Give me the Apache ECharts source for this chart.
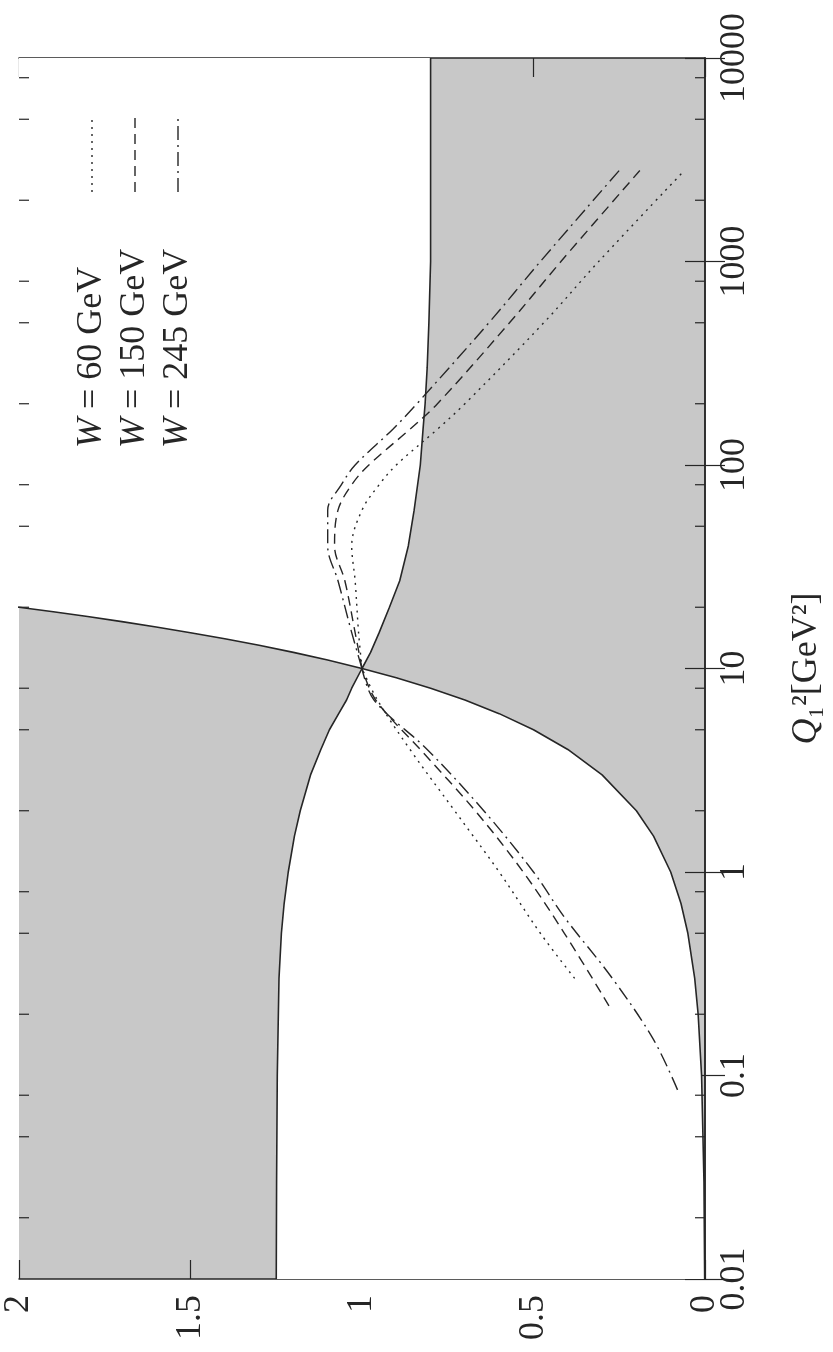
<!DOCTYPE html>
<html><head><meta charset="utf-8">
<script src="https://cdn.jsdelivr.net/npm/echarts@6/dist/echarts.min.js"></script>
<style>html,body{margin:0;padding:0;background:#fff}#c{width:833px;height:1352px}</style>
</head><body><div id="c"></div>
<script>
// ---- data ----
const valueTicks = [0, 0.5, 1, 1.5, 2];
const q2Major = [0.01, 0.1, 1, 10, 100, 1000, 10000];
const q2Minor = [0.02,0.05,0.08, 0.2,0.5,0.8, 2,5,8, 20,50,80, 200,500,800, 2000,5000,8000];
// boundary curve A (1.25 -> 1 -> 0.8)
const boundAQ2 = [0.01,0.03,0.1,0.3,0.5,0.7,1,1.5,2,3,4,5,6,7,8,10,12,15,20,27,40,60,100,150,200,300,500,1000,10000];
const boundAVal = [1.25,1.249,1.247,1.242,1.235,1.227,1.215,1.197,1.18,1.15,1.12,1.095,1.068,1.045,1.03,1.0,0.975,0.95,0.92,0.89,0.865,0.848,0.83,0.822,0.816,0.81,0.805,0.8,0.8];
// boundary curve B (rises from 0 through 1 at Q1^2 = 10 and leaves the frame at 2)
const boundBQ2 = [0.01,0.03,0.1,0.2,0.3,0.5,0.7,1,1.5,2,3,4,5,6,7,8,9,10,11,12,13,14,15,16,17,18,19,20,21,30,10000];
const boundBVal = [0.001,0.003,0.01,0.02,0.03,0.05,0.07,0.1,0.15,0.2,0.3,0.4,0.5,0.6,0.7,0.8,0.9,1.0,1.1,1.2,1.3,1.4,1.5,1.6,1.7,1.8,1.9,2.0,2.1,3,3];
// W curves: [Q1^2, value]
const w60Low   = [[0.3,0.38],[0.5,0.48],[1,0.6],[2,0.73],[4,0.86],[7,0.955],[10,1.0]];
const w60High  = [[10,1.0],[15,1.01],[27,1.02],[40,1.03],[60,1.0],[80,0.95],[100,0.9],[150,0.78],[200,0.7],[500,0.47],[1000,0.31],[2800,0.06]];
const w150Low  = [[0.22,0.28],[0.5,0.41],[1,0.53],[2,0.67],[4,0.83],[7,0.96],[10,1.0]];
const w150High = [[10,1.0],[15,1.02],[27,1.05],[40,1.08],[60,1.07],[80,1.03],[100,0.98],[150,0.86],[200,0.78],[500,0.57],[1000,0.42],[2800,0.19]];
const w245Low  = [[0.085,0.08],[0.15,0.15],[0.3,0.27],[0.6,0.41],[1,0.5],[2,0.645],[4,0.81],[7,0.965],[10,1.0]];
const w245High = [[10,1.0],[15,1.03],[27,1.07],[40,1.1],[60,1.1],[80,1.06],[100,1.02],[150,0.91],[200,0.84],[500,0.63],[1000,0.48],[2800,0.25]];
const legendLabels = ['60', '150', '245'];

// ---- style ----
const serif = 'Liberation Serif';
const ink = '#262626';
const shade = '#c8c8c8';
const dotted = [2, 5];
const dashed = [10, 6];
const dashDot = [14, 5, 2, 5];

const toXY = arr => arr.map(p => [p[1], p[0]]);

function bandItem(params, api) {
  const pts = [];
  for (let i = 0; i < boundAQ2.length; i++) pts.push(api.coord([boundAVal[i], boundAQ2[i]]));
  for (let i = boundBQ2.length - 1; i >= 0; i--) pts.push(api.coord([boundBVal[i], boundBQ2[i]]));
  return { type: 'polygon', shape: { points: pts }, style: { fill: '#ffffff' } };
}
function tickItem(len) {
  return function (params, api) {
    const q = api.value(1);
    const l = api.coord([2, q]);
    const r = api.coord([0, q]);
    const st = { stroke: ink, lineWidth: 1.2 };
    return { type: 'group', children: [
      { type: 'line', shape: { x1: l[0], y1: l[1], x2: l[0] + len, y2: l[1] }, style: st },
      { type: 'line', shape: { x1: r[0], y1: r[1], x2: r[0] - len, y2: r[1] }, style: st }
    ]};
  };
}
function curve(data, dash) {
  return { type: 'line', data: toXY(data), showSymbol: false, symbol: 'none', smooth: 0.35,
    lineStyle: { color: ink, width: 1.4, type: dash }, z: 5, silent: true };
}
function bound(q, v) {
  return { type: 'line', data: q.map((x, i) => [v[i], x]), showSymbol: false, symbol: 'none', smooth: false,
    lineStyle: { color: ink, width: 1.6 }, z: 4, silent: true };
}

const axisLabelStyle = { fontFamily: serif, fontSize: 36, color: ink };
const frameLine = { show: true, lineStyle: { color: ink, width: 1.5 } };
const option = {
  animation: false,
  backgroundColor: '#ffffff',
  grid: { left: 19, right: 127, top: 58, bottom: 73, show: true, backgroundColor: shade, borderWidth: 0 },
  xAxis: [
    { type: 'value', min: 0, max: 2, interval: 0.5, inverse: true, position: 'bottom',
      axisLine: frameLine,
      axisTick: { show: true, inside: true, length: 19, lineStyle: { color: ink, width: 1.2 } },
      axisLabel: Object.assign({ rotate: 90, margin: 16, formatter: v => String(v) }, axisLabelStyle),
      splitLine: { show: false } },
    { type: 'value', min: 0, max: 2, interval: 0.5, inverse: true, position: 'top',
      axisLine: frameLine,
      axisTick: { show: true, inside: true, length: 19, lineStyle: { color: ink, width: 1.2 } },
      axisLabel: { show: false }, splitLine: { show: false } }
  ],
  yAxis: [
    { type: 'log', logBase: 10, min: 0.01, max: 10000, position: 'right',
      axisLine: frameLine,
      axisTick: { show: true, inside: true, length: 20, lineStyle: { color: ink, width: 1.2 } },
      axisLabel: Object.assign({ rotate: 90, margin: 12, formatter: v => String(+(+v).toPrecision(6)) }, axisLabelStyle),
      splitLine: { show: false }, minorTick: { show: false },
      name: '{q|Q}₁²[GeV²]', nameLocation: 'middle', nameRotate: 90, nameGap: 84,
      nameTextStyle: { fontFamily: serif, fontSize: 36, color: ink,
        rich: { q: { fontFamily: serif, fontSize: 36, fontStyle: 'italic', color: ink } } } },
    { type: 'log', logBase: 10, min: 0.01, max: 10000, position: 'left',
      axisLine: frameLine,
      axisTick: { show: true, inside: true, length: 20, lineStyle: { color: ink, width: 1.2 } },
      axisLabel: { show: false }, splitLine: { show: false } }
  ],
  series: [
    { type: 'custom', clip: true, renderItem: bandItem, data: [[1, 1]], encode: { x: 0, y: 1 }, z: 1, silent: true },
    { type: 'custom', clip: true, renderItem: tickItem(10), data: q2Minor.map(q => [1, q]), encode: { x: 0, y: 1 }, z: 6, silent: true },
    bound(boundAQ2, boundAVal),
    bound(boundBQ2, boundBVal),
    curve(w60Low, dotted), curve(w60High, dotted),
    curve(w150Low, dashed), curve(w150High, dashed),
    curve(w245Low, dashDot), curve(w245High, dashDot)
  ],
  graphic: []
};

// legend drawn rotated (like the reference)
const legX = [92, 135, 178];
const legDash = [dotted, dashed, dashDot];
legendLabels.forEach((w, i) => {
  option.graphic.push({ type: 'text', x: legX[i], y: 448, rotation: Math.PI / 2, z: 20,
    style: { text: '{w|W} = ' + w + ' GeV', fontFamily: serif, fontSize: 36, fill: ink,
      align: 'left', verticalAlign: 'middle',
      rich: { w: { fontFamily: serif, fontSize: 36, fontStyle: 'italic', fill: ink } } } });
  option.graphic.push({ type: 'line', z: 20, shape: { x1: legX[i], y1: 192, x2: legX[i], y2: 116 },
    style: { stroke: ink, lineWidth: 1.4, lineDash: legDash[i] } });
});

const chart = echarts.init(document.getElementById('c'));
chart.setOption(option);
</script>
</body></html>
